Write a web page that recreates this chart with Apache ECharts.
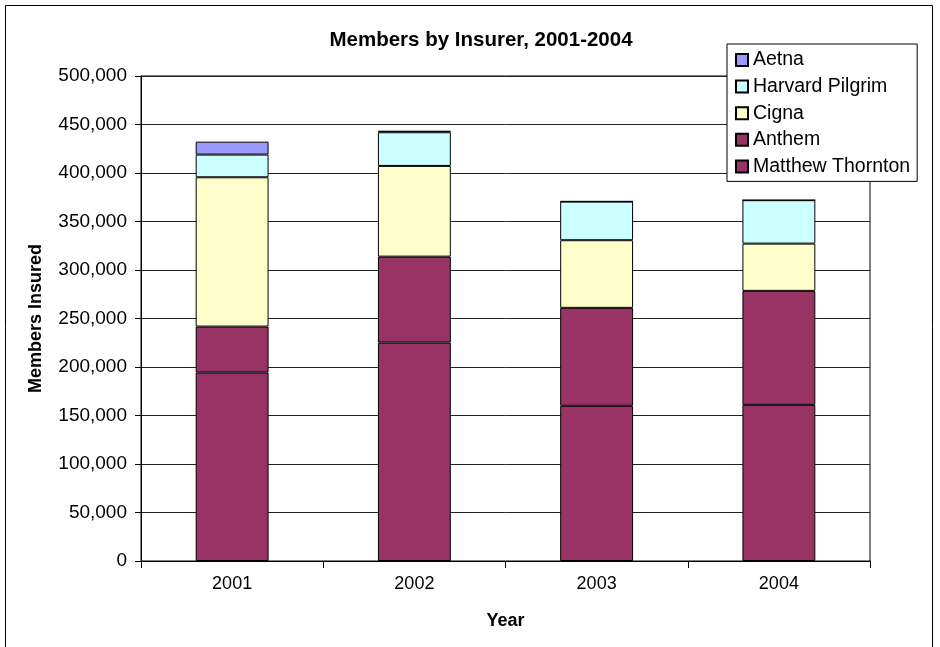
<!DOCTYPE html>
<html>
<head>
<meta charset="utf-8">
<script src="https://cdn.jsdelivr.net/npm/echarts@6/dist/echarts.min.js"></script>
<style>
html,body{margin:0;padding:0;background:#fff;}
#chart{width:940px;height:647px;}
</style>
</head>
<body>
<div id="chart"></div>
<script>
const years = ['2001', '2002', '2003', '2004'];
const matthewThornton = [194300, 225200, 160000, 161000];
const anthem = [47400, 88600, 101000, 117500];
const cigna = [153900, 93500, 69700, 48700];
const harvardPilgrim = [23400, 34700, 39800, 44800];
const aetna = [13300, 1600, 400, 0];
const legendOrder = ['Aetna', 'Harvard Pilgrim', 'Cigna', 'Anthem', 'Matthew Thornton'];

const FONT = 'Liberation Sans, Arial, sans-serif';
const chart = echarts.init(document.getElementById('chart'), null, {renderer: 'canvas'});

function bar(name, data, color) {
  return {
    name: name, type: 'bar', stack: 'total', data: data,
    barCategoryGap: '60%',
    itemStyle: {color: color, borderColor: '#000', borderWidth: 1},
    emphasis: {disabled: true}
  };
}

chart.setOption({
  animation: false,
  backgroundColor: '#fff',
  textStyle: {fontFamily: FONT},
  graphic: [{
    type: 'rect', shape: {x: 5.5, y: 5.5, width: 927, height: 700},
    style: {fill: 'none', stroke: '#000', lineWidth: 1}, silent: true, z: -1
  }],
  title: {
    text: 'Members by Insurer, 2001-2004',
    left: 476, top: 25, textAlign: 'center',
    textStyle: {fontFamily: FONT, fontSize: 20.5, fontWeight: 'bold', color: '#000'}
  },
  legend: {
    data: legendOrder,
    orient: 'vertical',
    icon: 'rect',
    left: 727, top: 44,
    padding: [6, 7, 5, 8],
    itemWidth: 12, itemHeight: 12, itemGap: 6.6,
    backgroundColor: '#fff', borderColor: '#000', borderWidth: 1,
    textStyle: {fontFamily: FONT, fontSize: 19.5, color: '#000', lineHeight: 20},
    selectedMode: false, z: 10
  },
  grid: {left: 141, right: 70, top: 76, bottom: 86, show: true, borderColor: '#000', borderWidth: 1, backgroundColor: 'transparent'},
  xAxis: {
    type: 'category', data: years,
    name: 'Year', nameLocation: 'middle', nameGap: 51,
    nameTextStyle: {fontFamily: FONT, fontSize: 18, fontWeight: 'bold', color: '#000'},
    axisLine: {lineStyle: {color: '#000', width: 1}},
    axisTick: {show: true, length: 7, lineStyle: {color: '#000'}},
    axisLabel: {fontFamily: FONT, fontSize: 18, color: '#000', margin: 14},
    splitLine: {show: false}
  },
  yAxis: {
    type: 'value', min: 0, max: 500000, interval: 50000,
    name: 'Members Insured', nameLocation: 'middle', nameGap: 96,
    nameTextStyle: {fontFamily: FONT, fontSize: 18, fontWeight: 'bold', color: '#000'},
    axisLine: {show: true, lineStyle: {color: '#000', width: 1}},
    axisTick: {show: true, length: 6, lineStyle: {color: '#000'}},
    axisLabel: {fontFamily: FONT, fontSize: 19, color: '#000', margin: 14,
      formatter: v => v.toLocaleString('en-US')},
    splitLine: {show: true, lineStyle: {color: '#222', width: 1}}
  },
  series: [
    bar('Matthew Thornton', matthewThornton, '#993366'),
    bar('Anthem', anthem, '#993366'),
    bar('Cigna', cigna, '#FFFFCC'),
    bar('Harvard Pilgrim', harvardPilgrim, '#CCFFFF'),
    bar('Aetna', aetna, '#9999FF')
  ]
});
</script>
</body>
</html>
